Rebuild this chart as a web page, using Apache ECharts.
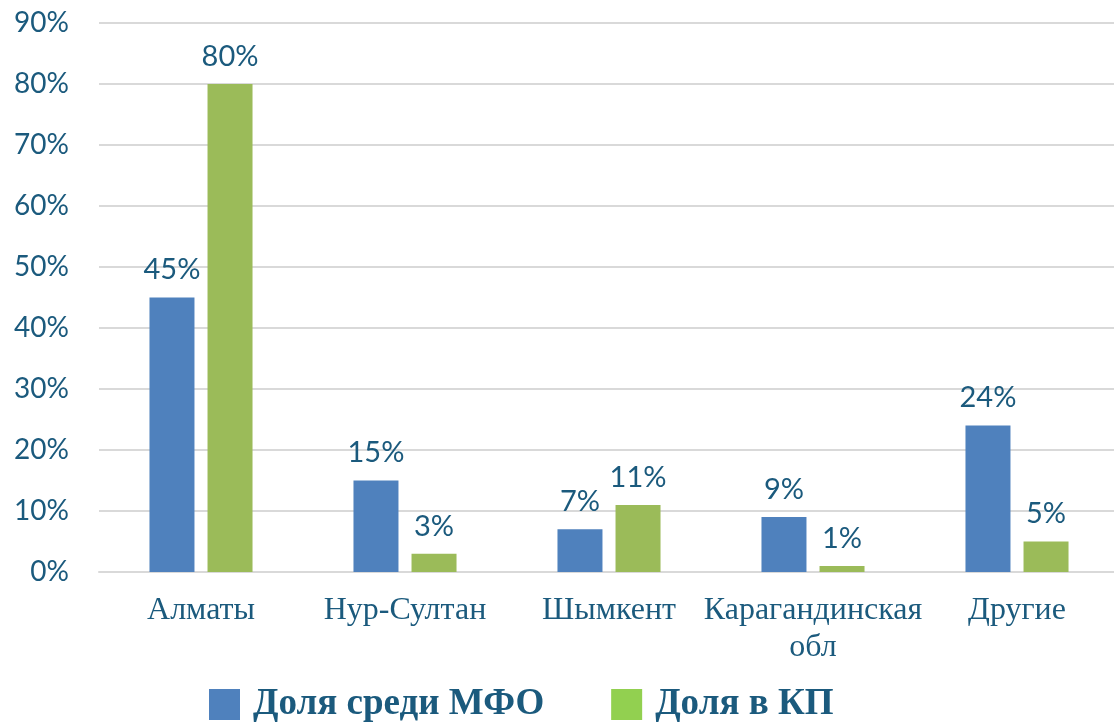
<!DOCTYPE html>
<html>
<head>
<meta charset="utf-8">
<script src="https://cdn.jsdelivr.net/npm/echarts@6/dist/echarts.min.js"></script>
<style>
  html, body { margin: 0; padding: 0; background: #fff; overflow: hidden; }
  #chart { width: 1120px; height: 723px; }
</style>
</head>
<body>
<div id="chart"></div>
<script>
const categories = ['Алматы', 'Нур-Султан', 'Шымкент', 'Карагандинская\nобл', 'Другие'];
const mfoShare = [45, 15, 7, 9, 24];
const kpShare = [80, 3, 11, 1, 5];
const yTicks = [0, 10, 20, 30, 40, 50, 60, 70, 80, 90];

const textColor = '#1b5a7d';
const numFont = 'Lato, "Open Sans", sans-serif';
const serifFont = '"Liberation Serif", "DejaVu Serif", serif';

const chart = echarts.init(document.getElementById('chart'));

const barLabel = {
  show: true,
  position: 'top',
  distance: 13,
  color: textColor,
  fontFamily: numFont,
  fontSize: 29,
  formatter: (p) => p.value + '%',
};

chart.setOption({
  animation: false,
  grid: {
    left: 99,
    right: 1,
    top: 23,
    bottom: 151,
  },
  legend: {
    left: 204,
    top: 681,
    itemWidth: 31,
    itemHeight: 31,
    itemGap: 67,
    icon: 'rect',
    textStyle: {
      color: textColor,
      fontFamily: serifFont,
      fontWeight: 'bold',
      fontSize: 37,
      padding: [0, 0, 0, 8],
    },
    data: [
      { name: 'Доля среди МФО', itemStyle: { color: '#4f81bd' } },
      { name: 'Доля в КП', itemStyle: { color: '#92d050' } },
    ],
  },
  xAxis: {
    type: 'category',
    data: categories,
    axisTick: { show: false },
    axisLine: { show: true, lineStyle: { color: '#d9d9d9', width: 2 } },
    axisLabel: {
      interval: 0,
      color: textColor,
      fontFamily: serifFont,
      fontSize: 32,
      lineHeight: 37,
      margin: 20,
    },
  },
  yAxis: {
    type: 'value',
    min: yTicks[0],
    max: yTicks[yTicks.length - 1],
    interval: 10,
    axisLine: { show: false },
    axisTick: { show: false },
    axisLabel: {
      color: textColor,
      fontFamily: numFont,
      fontSize: 28,
      margin: 30,
      formatter: '{value}%',
    },
    splitLine: { lineStyle: { color: '#d9d9d9', width: 2 } },
  },
  series: [
    {
      name: 'Доля среди МФО',
      type: 'bar',
      data: mfoShare,
      barWidth: 45,
      barGap: '29%',
      itemStyle: { color: '#4f81bd' },
      label: barLabel,
    },
    {
      name: 'Доля в КП',
      type: 'bar',
      data: kpShare,
      barWidth: 45,
      itemStyle: { color: '#9bbb59' },
      label: barLabel,
    },
  ],
});
</script>
</body>
</html>
